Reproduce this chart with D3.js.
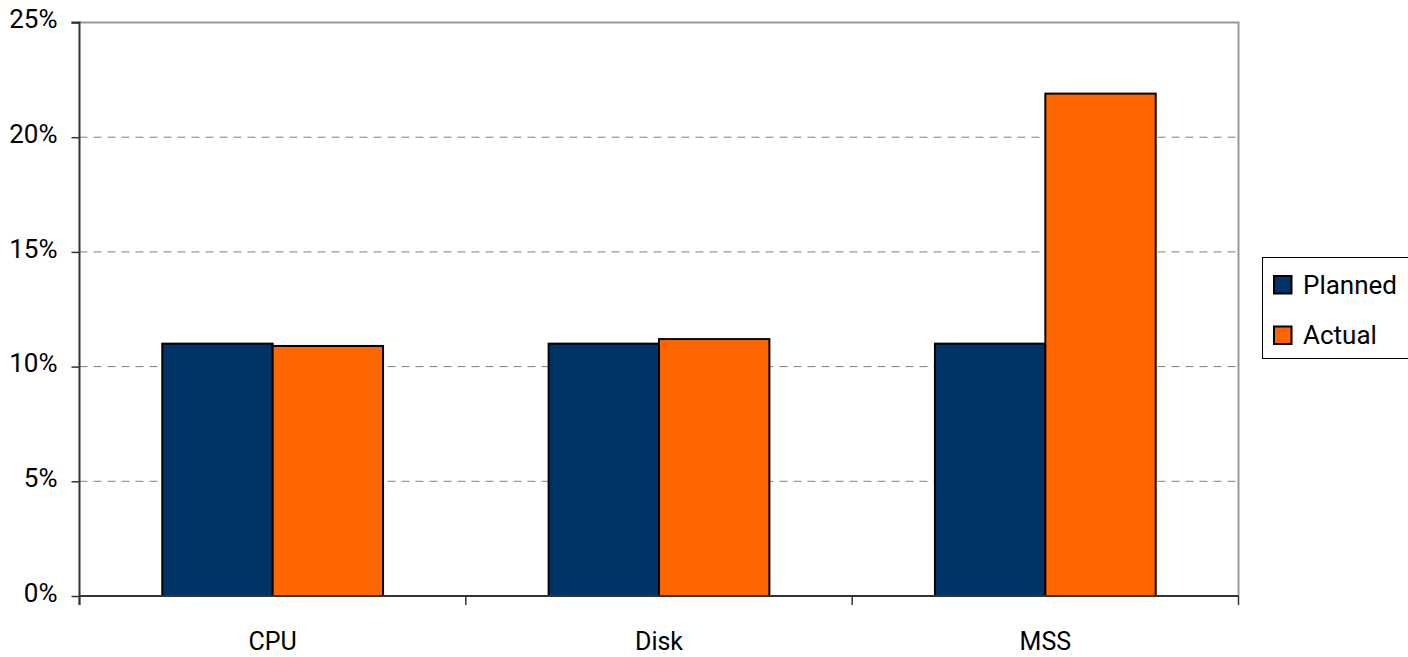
<!DOCTYPE html>
<html>
<head>
<meta charset="utf-8">
<script src="https://cdn.jsdelivr.net/npm/d3@7"></script>
<style>
  body { margin: 0; background: #fff; }
  text { font-family: Roboto, "Liberation Sans", sans-serif; fill: #000; }
</style>
</head>
<body>
<script>
'use strict';

// chart data
const categories = ["CPU", "Disk", "MSS"];
const seriesNames = ["Planned", "Actual"];
const planned = [11.0, 11.0, 11.0];
const actual = [10.9, 11.2, 21.9];
const yTicks = [0, 5, 10, 15, 20, 25];
const colors = ["#003366", "#FF6600"];

(function() {
  const width = 1408, height = 657;
  const margin = { left: 79.5, top: 22.5, right: 1238.5, bottom: 596 };

  const svg = d3.select('body').append('svg')
    .attr('width', width)
    .attr('height', height);

  // scales
  const xScale = d3.scaleBand()
    .domain(categories)
    .range([margin.left, margin.right])
    .paddingInner(0)
    .paddingOuter(0);

  const yScale = d3.scaleLinear()
    .domain([0, 25])
    .range([margin.bottom, margin.top]);

  // gridlines (dashed) for inner ticks
  svg.append('g').selectAll('line')
    .data(yTicks.filter(t => t > 0 && t < 25))
    .enter().append('line')
      .attr('x1', margin.left)
      .attr('x2', margin.right)
      .attr('y1', d => yScale(d))
      .attr('y2', d => yScale(d))
      .attr('stroke', '#808080')
      .attr('stroke-width', 1)
      .attr('stroke-dasharray', '8,6');

  // top + right plot border
  svg.append('path')
    .attr('d', `M${margin.left},${margin.top}H${margin.right}V${margin.bottom}`)
    .attr('fill', 'none')
    .attr('stroke', '#999')
    .attr('stroke-width', 2);

  // bars
  const bandW = xScale.bandwidth();
  const barW = bandW / 3.5; // gap width 150%
  const groupOff = (bandW - 2 * barW) / 2;
  const seriesData = [planned, actual];

  seriesData.forEach((vals, si) => {
    svg.append('g').selectAll('rect')
      .data(vals)
      .enter().append('rect')
        .attr('x', (d, i) => xScale(categories[i]) + groupOff + si * barW)
        .attr('y', d => yScale(d))
        .attr('width', barW)
        .attr('height', d => yScale(0) - yScale(d))
        .attr('fill', colors[si])
        .attr('stroke', '#000')
        .attr('stroke-width', 2);
  });

  // y axis
  const yAxis = d3.axisLeft(yScale)
    .tickValues(yTicks)
    .tickSize(8)
    .tickPadding(14)
    .tickFormat(d => d + '%');
  const yg = svg.append('g')
    .attr('transform', `translate(${margin.left},0)`)
    .call(yAxis);
  yg.select('.domain').attr('stroke', '#333').attr('stroke-width', 2)
    .attr('d', `M-8,${margin.top}H0V${margin.bottom + 9}`);
  yg.selectAll('.tick line').attr('stroke', '#333').attr('stroke-width', 1.5);
  yg.selectAll('.tick text')
    .style('font-size', '26px')
    .attr('dy', '0.28em')
    .attr('y', -2);

  // x axis
  const xAxis = d3.axisBottom(xScale)
    .tickSize(0)
    .tickPadding(46);
  const xg = svg.append('g')
    .attr('transform', `translate(0,${margin.bottom})`)
    .call(xAxis);
  xg.select('.domain').attr('stroke', '#333').attr('stroke-width', 2)
    .attr('d', `M${margin.left},0H${margin.right}`);
  xg.selectAll('.tick text').style('font-size', '25px').attr('dy', 0).attr('y', 54);

  // category boundary ticks
  const bounds = categories.map(c => xScale(c)).concat([margin.right]);
  xg.append('g').selectAll('line')
    .data(bounds)
    .enter().append('line')
      .attr('x1', d => d).attr('x2', d => d)
      .attr('y1', 0).attr('y2', 9)
      .attr('stroke', '#333')
      .attr('stroke-width', 1.5);

  // legend
  const legend = svg.append('g');
  legend.append('rect')
    .attr('x', 1262.5).attr('y', 257.5)
    .attr('width', 160).attr('height', 101)
    .attr('fill', '#fff')
    .attr('stroke', '#000')
    .attr('stroke-width', 1);

  seriesNames.forEach((name, i) => {
    const yy = 276 + i * 50.5;
    legend.append('rect')
      .attr('x', 1274).attr('y', yy)
      .attr('width', 17.5).attr('height', 17.5)
      .attr('fill', colors[i])
      .attr('stroke', '#000')
      .attr('stroke-width', 2);
    legend.append('text')
      .attr('x', 1303)
      .attr('y', yy + 17.5)
      .style('font-size', '26px')
      .text(name);
  });
})();
</script>
</body>
</html>
